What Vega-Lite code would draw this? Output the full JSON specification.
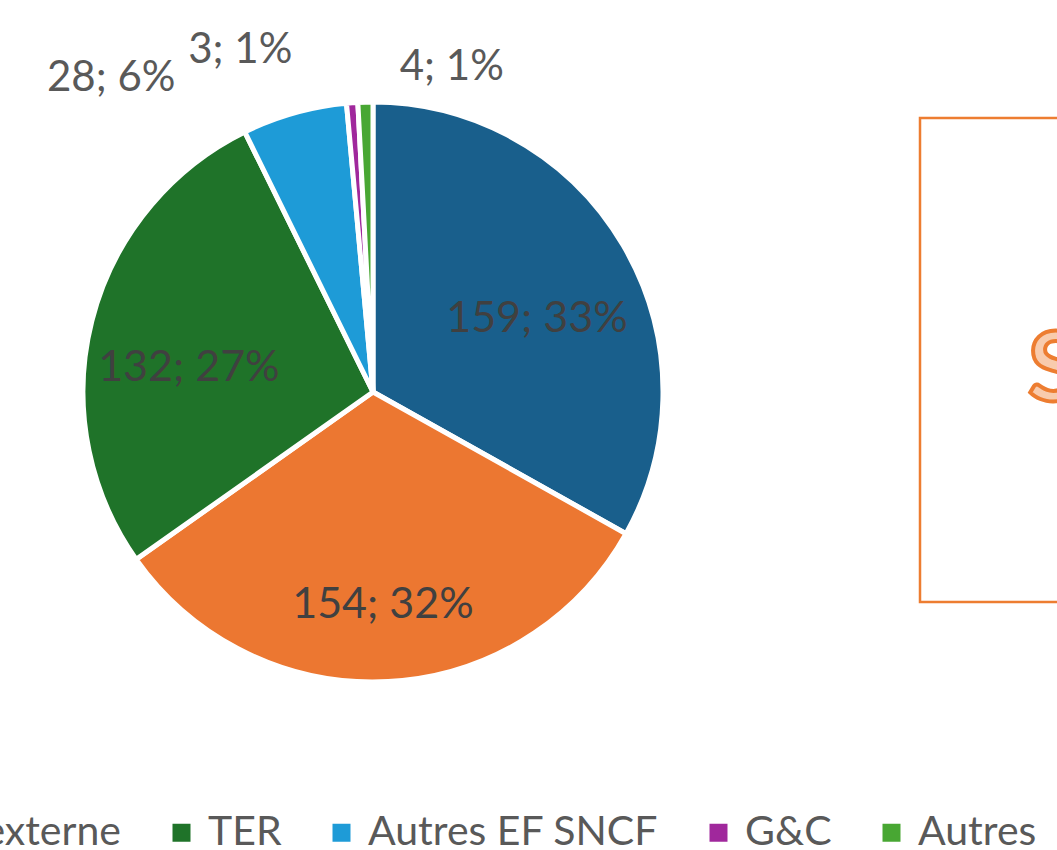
{
  "$schema": "https://vega.github.io/schema/vega-lite/v6.json",
  "autosize": {"type": "none"},
  "padding": {"left": 0, "top": 0, "right": 1057, "bottom": 850},
  "background": "white",
  "config": {"view": {"stroke": null}, "font": "Lato"},
  "bounds": "flush",
  "spacing": 174,
  "hconcat": [
    {
      "width": 746,
      "height": 784,
      "data": {
        "values": [
          {"cat": "SNCF Réseau", "value": 159, "label": "159; 33%", "rank": 1},
          {"cat": "EF externe", "value": 154, "label": "154; 32%", "rank": 2},
          {"cat": "TER", "value": 132, "label": "132; 27%", "rank": 3},
          {"cat": "Autres EF SNCF", "value": 28, "label": "28; 6%", "rank": 4},
          {"cat": "G&C", "value": 3, "label": "3; 1%", "rank": 5},
          {"cat": "Autres", "value": 4, "label": "4; 1%", "rank": 6}
        ]
      },
      "encoding": {
        "theta": {"field": "value", "type": "quantitative", "stack": true},
        "order": {"field": "rank", "type": "quantitative"}
      },
      "layer": [
        {
          "mark": {"type": "arc", "outerRadius": 290, "stroke": "white", "strokeWidth": 5},
          "encoding": {
            "color": {
              "field": "cat",
              "type": "nominal",
              "scale": {
                "domain": ["SNCF Réseau", "EF externe", "TER", "Autres EF SNCF", "G&C", "Autres"],
                "range": ["#195F8C", "#EC7731", "#1F7329", "#1E9BD7", "#A0289C", "#48A733"]
              },
              "legend": {
                "orient": "none",
                "legendX": -450,
                "legendY": 812,
                "direction": "horizontal",
                "title": null,
                "symbolType": "square",
                "symbolSize": 324,
                "symbolStrokeWidth": 0,
                "symbolOpacity": 1,
                "labelFontSize": 41,
                "labelFont": "Lato",
                "labelColor": "#595959",
                "labelOffset": 6,
                "columnPadding": 39,
                "labelLimit": 0,
                "padding": 0
              }
            }
          }
        },
        {
          "mark": {"type": "text", "radius": 190, "dy": 23, "fontSize": 43, "font": "Lato", "color": "#404040"},
          "encoding": {
            "detail": {"field": "cat", "type": "nominal"},
            "text": {"condition": {"test": "datum.rank <= 3", "field": "label"}, "value": ""}
          }
        },
        {
          "mark": {"type": "text", "radius": 315, "dx": -112, "dy": -11, "align": "right", "fontSize": 42, "font": "Lato", "color": "#595959"},
          "encoding": {
            "detail": {"field": "cat", "type": "nominal"},
            "text": {"condition": {"test": "datum.rank == 4", "field": "label"}, "value": ""}
          }
        },
        {
          "mark": {"type": "text", "radius": 315, "dx": -58, "dy": -28, "align": "right", "fontSize": 42, "font": "Lato", "color": "#595959"},
          "encoding": {
            "detail": {"field": "cat", "type": "nominal"},
            "text": {"condition": {"test": "datum.rank == 5", "field": "label"}, "value": ""}
          }
        },
        {
          "mark": {"type": "text", "radius": 315, "dx": 35, "dy": -10, "align": "left", "fontSize": 42, "font": "Lato", "color": "#595959"},
          "encoding": {
            "detail": {"field": "cat", "type": "nominal"},
            "text": {"condition": {"test": "datum.rank == 6", "field": "label"}, "value": ""}
          }
        }
      ]
    },
    {
      "spacing": 18,
      "bounds": "flush",
      "vconcat": [
        {
          "width": 216,
          "height": 100,
          "data": {"values": [{"t": ""}]},
          "mark": {"type": "text"},
          "encoding": {"text": {"field": "t"}}
        },
        {
          "width": 216,
          "height": 484,
          "view": {"stroke": "#ED7D31", "strokeWidth": 2.5},
          "data": {"values": [{"t": "S"}]},
          "mark": {"type": "text", "fontSize": 96, "fontWeight": "bold", "font": "Lato", "fill": "#F8CBAD", "stroke": "#ED7D31", "strokeWidth": 4, "align": "left", "baseline": "middle", "dy": 12},
          "encoding": {"text": {"field": "t"}}
        }
      ]
    }
  ]
}
